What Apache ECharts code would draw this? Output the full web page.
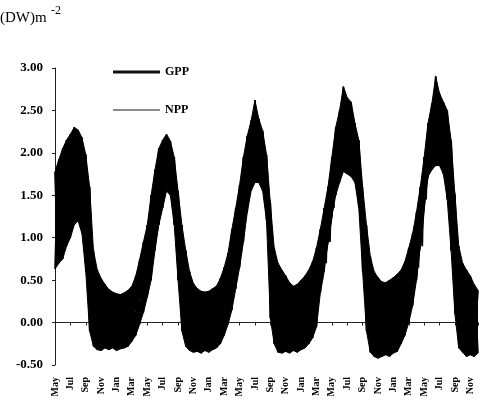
<!DOCTYPE html>
<html>
<head>
<meta charset="utf-8">
<script src="https://cdn.jsdelivr.net/npm/echarts@6/dist/echarts.min.js"></script>
<style>html,body{margin:0;padding:0;background:#fff}#c{width:480px;height:402px}</style>
</head>
<body>
<div id="c"></div>
<script>
// Tick labels along the time axis (every 2 months, starting May of year 1)
var monthLabels = ['May','Jul','Sep','Nov','Jan','Mar'];
// Half-monthly readings (index k -> k/2 months after 1 May, year 1)
// GPP: upper and lower edge of the daily band
var gppHigh = [
  1.78,1.92,2.05,2.15,2.22,2.30,2.27,2.18,1.98,1.60,0.85,0.62,0.52,0.45,0.39,0.36,0.34,0.33,0.35,0.38,0.43,0.55,0.74,0.95,
  1.15,1.50,1.80,2.05,2.15,2.22,2.14,1.95,1.55,1.15,0.85,0.60,0.46,0.40,0.37,0.36,0.37,0.40,0.43,0.52,0.65,0.82,1.10,1.35,
  1.62,1.95,2.20,2.38,2.62,2.40,2.26,1.98,1.40,0.88,0.70,0.62,0.55,0.47,0.43,0.45,0.50,0.55,0.62,0.72,0.88,1.10,1.35,1.60,
  1.95,2.30,2.50,2.78,2.65,2.60,2.35,2.15,1.60,1.15,0.78,0.60,0.53,0.48,0.47,0.50,0.53,0.57,0.62,0.72,0.88,1.05,1.30,1.60,
  1.95,2.35,2.58,2.90,2.70,2.60,2.50,2.15,1.50,0.90,0.70,0.62,0.55,0.45,0.38];
var gppLow = [
  1.05,1.30,1.45,1.55,1.60,1.75,1.70,1.60,1.30,0.80,0.15,0.05,0.06,0.07,0.05,0.04,0.04,0.04,0.05,0.06,0.08,0.14,0.28,0.42,
  0.70,1.00,1.35,1.60,1.70,1.75,1.70,1.45,0.95,0.45,0.20,0.08,0.06,0.06,0.05,0.04,0.04,0.05,0.07,0.12,0.20,0.35,0.55,0.80,
  1.05,1.40,1.70,1.90,1.95,1.95,1.85,1.50,0.80,0.20,0.10,0.08,0.07,0.08,0.06,0.07,0.10,0.12,0.16,0.22,0.35,0.50,0.70,0.95,
  1.35,1.65,1.95,2.10,2.10,2.05,1.85,1.60,0.85,0.35,0.15,0.08,0.08,0.09,0.07,0.08,0.10,0.12,0.15,0.22,0.32,0.48,0.65,0.90,
  1.45,1.90,2.05,2.15,2.15,2.05,1.90,1.60,0.80,0.25,0.10,0.06,0.06,0.08,0.06];
// NPP: upper and lower edge of the daily band
var nppHigh = [
  1.45,1.60,1.70,1.75,1.80,1.90,1.88,1.80,1.55,1.00,0.40,0.18,0.08,0.06,0.05,0.05,0.05,0.05,0.06,0.07,0.08,0.12,0.25,0.45,
  0.80,1.10,1.45,1.70,1.80,1.85,1.80,1.60,1.15,0.70,0.40,0.18,0.08,0.06,0.05,0.05,0.05,0.06,0.08,0.12,0.22,0.40,0.65,0.90,
  1.20,1.55,1.85,2.00,2.05,2.00,1.90,1.60,0.95,0.35,0.20,0.15,0.10,0.08,0.08,0.09,0.11,0.14,0.18,0.25,0.40,0.60,0.85,1.10,
  1.55,1.90,2.10,2.25,2.20,2.15,2.00,1.75,1.05,0.50,0.25,0.15,0.12,0.10,0.10,0.11,0.13,0.15,0.18,0.26,0.38,0.55,0.80,1.10,
  1.60,2.00,2.20,2.30,2.25,2.15,2.05,1.75,1.00,0.40,0.22,0.15,0.10,0.08,0.06];
var nppLow = [
  0.63,0.70,0.75,0.90,1.00,1.15,1.20,1.05,0.60,-0.10,-0.28,-0.32,-0.33,-0.30,-0.32,-0.30,-0.33,-0.31,-0.30,-0.28,-0.22,-0.15,-0.02,0.12,
  0.30,0.50,0.85,1.15,1.35,1.55,1.50,1.15,0.50,-0.10,-0.28,-0.33,-0.35,-0.34,-0.36,-0.33,-0.35,-0.32,-0.30,-0.25,-0.15,-0.02,0.15,0.40,
  0.65,0.95,1.30,1.55,1.65,1.65,1.55,1.20,0.05,-0.25,-0.35,-0.36,-0.34,-0.36,-0.33,-0.35,-0.32,-0.30,-0.25,-0.18,-0.05,0.35,0.60,0.95,
  1.25,1.50,1.65,1.78,1.75,1.72,1.65,1.35,0.60,-0.10,-0.35,-0.40,-0.42,-0.40,-0.38,-0.40,-0.36,-0.34,-0.25,-0.15,0.00,0.20,0.50,0.90,
  1.35,1.72,1.80,1.85,1.85,1.75,1.45,0.85,0.10,-0.30,-0.35,-0.40,-0.38,-0.40,-0.36];

// band table [month, low, high] for the filled daily range
function bandData(hi, lo) { return hi.map(function (v, k) { return [k * 0.5, lo[k], v]; }); }
// day-to-day swing: alternate between the high and low readings
function zigzag(hi, lo, loFirst) {
  var out = [];
  for (var k = 0; k < hi.length; k++) {
    out.push([k * 0.5, loFirst ? lo[k] : hi[k]]);
    if (k < hi.length - 1) out.push([k * 0.5 + 0.25, loFirst ? hi[k] : lo[k]]);
  }
  return out;
}
function makeBand(name, hi, lo, z) {
  var d = bandData(hi, lo);
  return {name: name, type: 'custom', data: d, encode: {x: 0, y: [1, 2]}, z: z, clip: true, silent: true,
    itemStyle: {color: '#000'},
    renderItem: function (params, api) {
      var k = params.dataIndex;
      if (k >= d.length - 1) return null;
      var a = d[k], b = d[k + 1];
      var pts = [api.coord([a[0], a[1]]), api.coord([a[0], a[2]]), api.coord([b[0], b[2]]), api.coord([b[0], b[1]])];
      return {type: 'polygon', shape: {points: pts}, style: {fill: '#000', stroke: '#000', lineWidth: 1}};
    }};
}

var serif = '"Liberation Serif", "DejaVu Serif", serif';
var chart = echarts.init(document.getElementById('c'), null, {renderer: 'canvas'});
chart.setOption({
  animation: false,
  backgroundColor: '#fff',
  graphic: [
    {type: 'text', left: 0, top: 11, style: {text: '(DW)m', font: '15px ' + serif, fill: '#000'}},
    {type: 'text', left: 51, top: 5, style: {text: '-2', font: '12px ' + serif, fill: '#000'}}
  ],
  legend: {
    orient: 'vertical', left: 113, top: 66, padding: 0, itemWidth: 47, itemHeight: 10, itemGap: 26,
    textStyle: {fontFamily: serif, fontSize: 12, fontWeight: 'bold', color: '#000'},
    data: [
      {name: 'GPP', icon: 'path://M0,3.5 L47,3.5 L47,6.5 L0,6.5 Z', itemStyle: {color: '#111'}},
      {name: 'NPP', icon: 'path://M0,4.3 L47,4.3 L47,5.7 L0,5.7 Z', itemStyle: {color: '#666'}}
    ]
  },
  grid: {left: 55, right: 2, top: 68, bottom: 37, containLabel: false},
  xAxis: [
    {type: 'value', min: 0, max: 55, interval: 2, position: 'bottom',
     axisLine: {show: false, onZero: false}, axisTick: {show: false}, splitLine: {show: false},
     axisLabel: {rotate: 90, margin: 12, fontFamily: serif, fontSize: 10, fontWeight: 'bold', color: '#000',
       formatter: function (v) { return v % 2 === 0 ? monthLabels[(v / 2) % 6] : ''; }}},
    {type: 'value', min: 0, max: 55, interval: 2, position: 'bottom',
     axisLine: {show: true, onZero: true, lineStyle: {color: '#222', width: 1}},
     axisTick: {show: true, length: 3, lineStyle: {color: '#222'}}, axisLabel: {show: false}, splitLine: {show: false}}
  ],
  yAxis: {
    type: 'value', min: -0.5, max: 3, interval: 0.5,
    axisLine: {show: true, lineStyle: {color: '#222', width: 1}},
    axisTick: {show: true, length: 3, lineStyle: {color: '#222'}},
    splitLine: {show: false},
    axisLabel: {margin: 12, fontFamily: serif, fontSize: 13, fontWeight: 'bold', color: '#000',
      formatter: function (v) { return v.toFixed(2); }}
  },
  series: [
    makeBand('NPP', nppHigh, nppLow, 2),
    makeBand('GPP', gppHigh, gppLow, 3),
    {name: 'NPP', type: 'line', data: zigzag(nppHigh, nppLow, true), symbol: 'none', silent: true,
     lineStyle: {color: '#000', width: 1.6}, itemStyle: {color: '#666'}, z: 4},
    {name: 'GPP', type: 'line', data: zigzag(gppHigh, gppLow, false), symbol: 'none', silent: true,
     lineStyle: {color: '#000', width: 1.8}, itemStyle: {color: '#111'}, z: 5}
  ]
});
</script>
</body>
</html>
